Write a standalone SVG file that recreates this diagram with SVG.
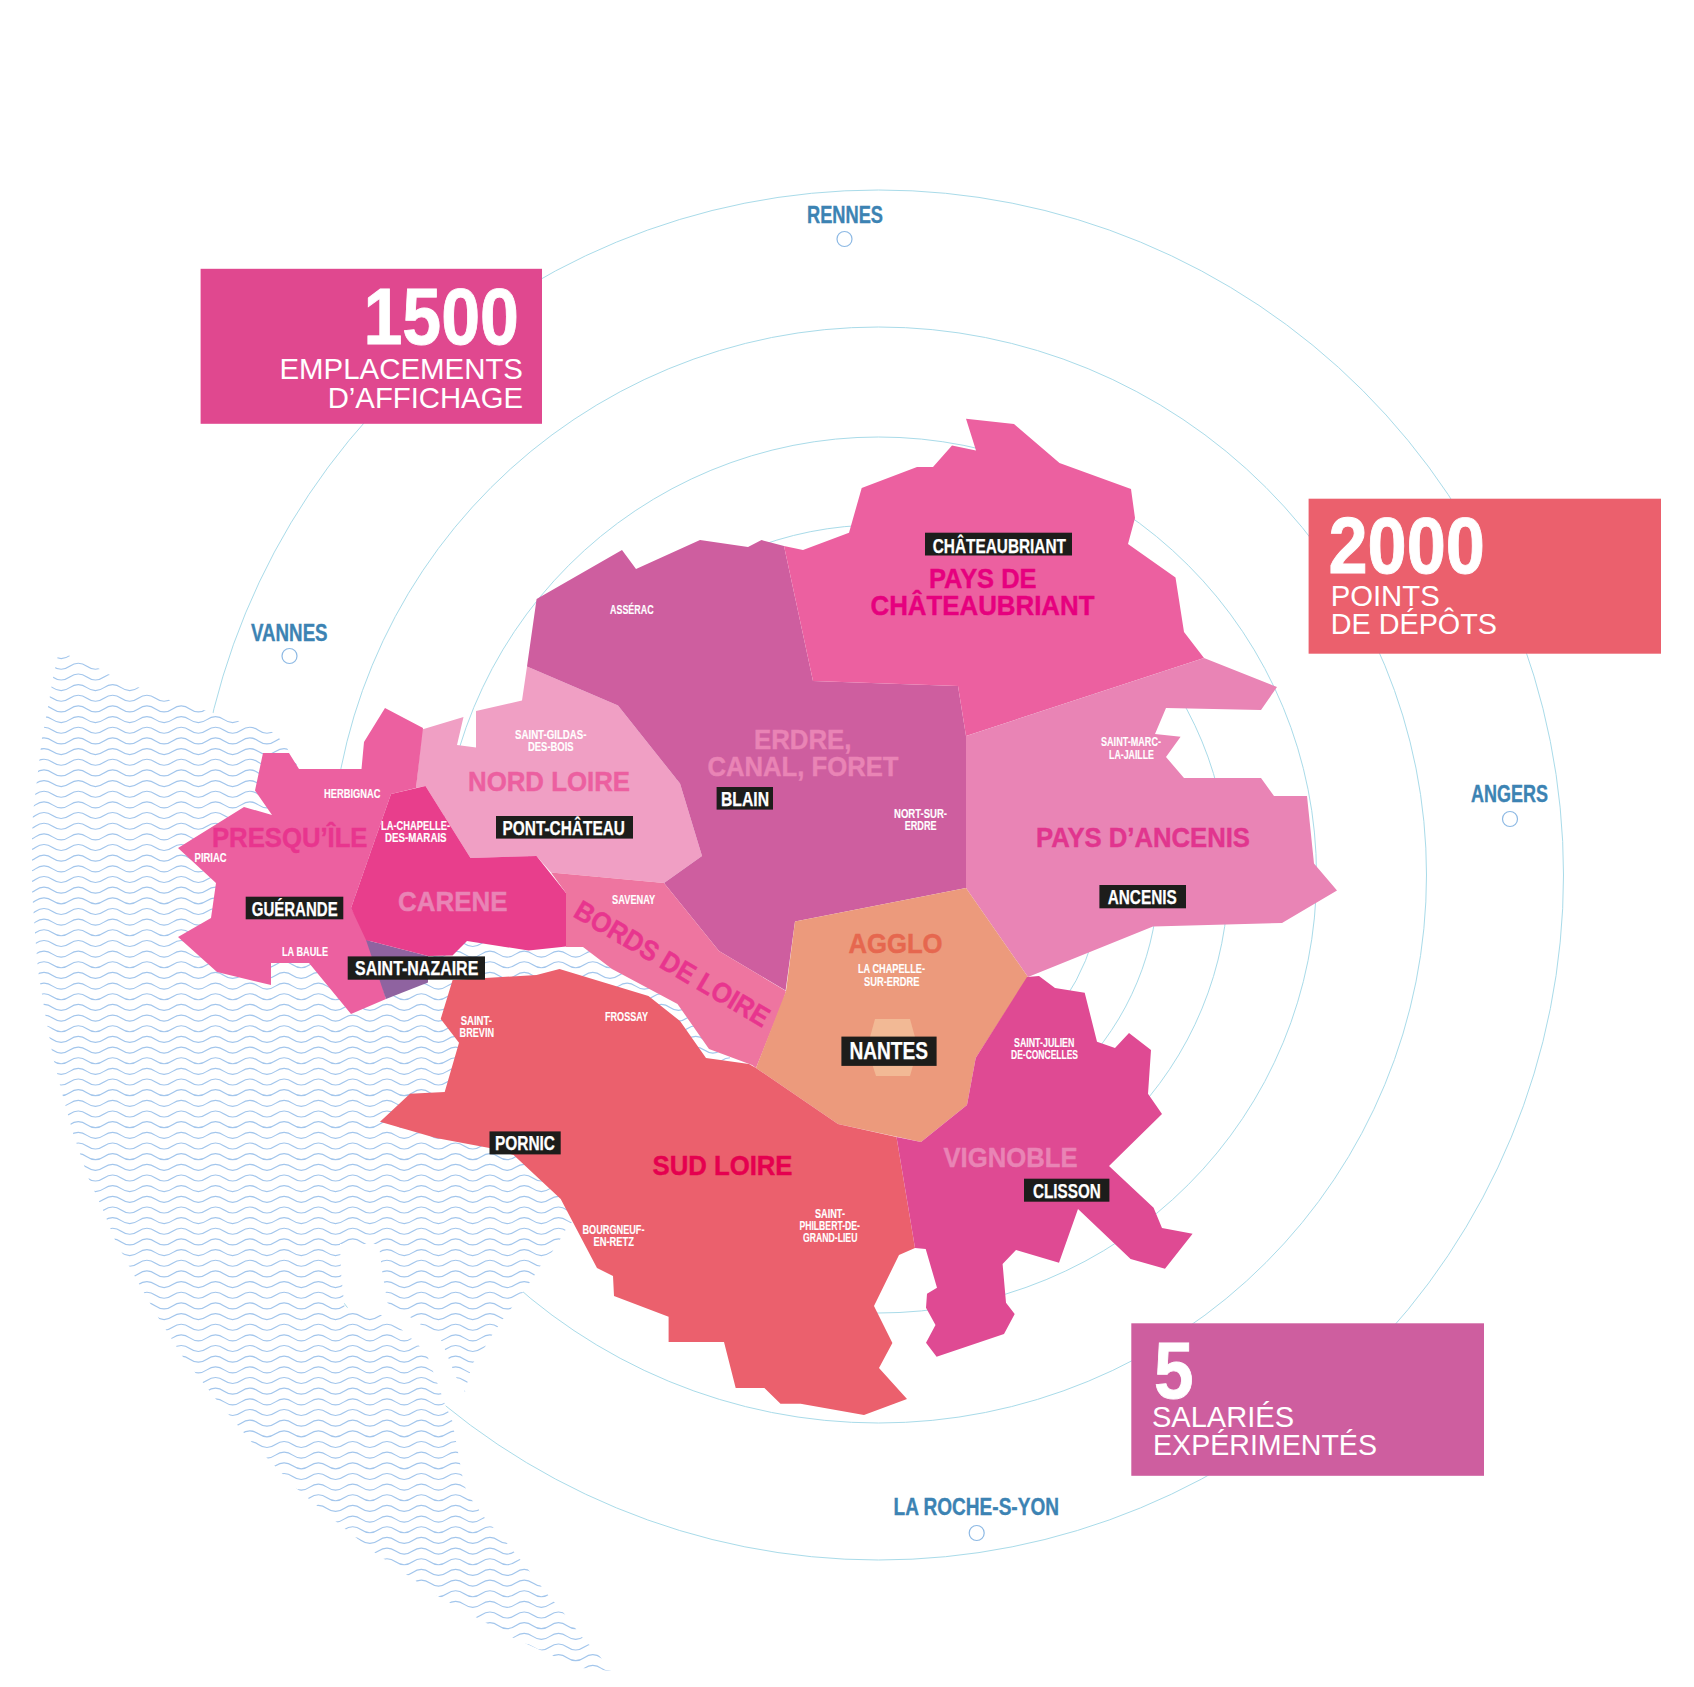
<svg xmlns="http://www.w3.org/2000/svg" width="1694" height="1687" viewBox="0 0 1694 1687">
<style>
text{font-family:"Liberation Sans",Arial,sans-serif;font-weight:700}
.ring{fill:none;stroke:#A9DBE9;stroke-width:1}
.r{font-size:28px;stroke-width:.45}
.pk{fill:#E984B5;stroke:#E984B5}
.mg{fill:#E8358E;stroke:#E8358E}
.c{font-size:23px;fill:#3C83B3;stroke:#3C83B3;stroke-width:.35}
.s{font-size:12px;fill:#fff;stroke:#fff;stroke-width:.12}
.t{font-size:20px;fill:#fff;stroke:#fff;stroke-width:.25}
.n{font-size:79px;fill:#fff;stroke:#fff;stroke-width:.9}
.b{font-size:29px;fill:#fff;font-weight:400}
.k{fill:#1D1D1B}
.dot{fill:#fff;stroke:#8DB9E4;stroke-width:1.2}
.w{fill:none;stroke:#A3C6EC;stroke-width:1.15}
</style>
<defs>
<path id="wave" class="w" d="M9.7,3c8.6,0 8.6,6 17.15,6s8.55,-6 17.15,-6s8.6,6 17.15,6s8.55,-6 17.15,-6s8.6,6 17.15,6s8.55,-6 17.15,-6s8.6,6 17.15,6s8.55,-6 17.15,-6s8.6,6 17.15,6s8.55,-6 17.15,-6s8.6,6 17.15,6s8.55,-6 17.15,-6s8.6,6 17.15,6s8.55,-6 17.15,-6s8.6,6 17.15,6s8.55,-6 17.15,-6s8.6,6 17.15,6s8.55,-6 17.15,-6s8.6,6 17.15,6s8.55,-6 17.15,-6s8.6,6 17.15,6s8.55,-6 17.15,-6s8.6,6 17.15,6s8.55,-6 17.15,-6s8.6,6 17.15,6s8.55,-6 17.15,-6s8.6,6 17.15,6s8.55,-6 17.15,-6s8.6,6 17.15,6s8.55,-6 17.15,-6s8.6,6 17.15,6s8.55,-6 17.15,-6s8.6,6 17.15,6s8.55,-6 17.15,-6s8.6,6 17.15,6s8.55,-6 17.15,-6s8.6,6 17.15,6s8.55,-6 17.15,-6s8.6,6 17.15,6s8.55,-6 17.15,-6s8.6,6 17.15,6s8.55,-6 17.15,-6"/>
<polygon id="seashape" points="58,655 68,655 98,668 110,675 140,688 172,701 207,711 242,722 275,733 287,748 300,770 340,800 450,900 570,900 720,1000 760,1060 760,1100 600,1200 572,1222 566.6,1228 561,1238 552,1252 541,1265 534.6,1275 530,1282 523,1292 511.5,1308 503.6,1318 499,1325 492.6,1334 485,1347 473.6,1362 470,1372 465,1392 456,1377 448,1357 441,1340 418.5,1323 410,1317 387.5,1303 382,1270 379.6,1250 377,1244 340,1244 341,1273 344.5,1307 381,1315 400,1328 418.5,1345 427,1355 441,1393 444,1402 452,1420 458,1452 464,1485 472,1500 484,1517 506,1542 527,1568 548,1595 563,1612 582,1637 598,1654 611,1671 582,1668 551,1655 511.5,1637 472,1615 436,1595 374,1552 334,1520 296,1488 251.5,1442 215,1398 183,1357 158.5,1318 134,1275 115,1240 103,1210 88,1177 73,1133 62,1093 53,1057 45,1013 38,970 35,933 32,890 32,847 32,837 33,813 42,738 48,707 53,678"/>
<clipPath id="seaclip"><use href="#seashape"/></clipPath>
</defs>
<rect width="1694" height="1687" fill="#fff"/>
<g id="rings">
<circle class="ring" cx="878.5" cy="875" r="685"/>
<circle class="ring" cx="878.5" cy="875" r="548"/>
<circle class="ring" cx="878.5" cy="875" r="438"/>
<circle class="ring" cx="878.5" cy="875" r="350"/>
<circle class="ring" cx="878.5" cy="875" r="280"/>
<circle class="ring" cx="878.5" cy="875" r="224"/>
</g>
<g id="sea">
<use href="#seashape" fill="#fff"/>
<g clip-path="url(#seaclip)">
<use href="#wave" y="649.64"/><use href="#wave" y="660.3"/><use href="#wave" y="670.96"/><use href="#wave" y="681.62"/><use href="#wave" y="692.28"/><use href="#wave" y="702.94"/><use href="#wave" y="713.6"/><use href="#wave" y="724.26"/><use href="#wave" y="734.92"/><use href="#wave" y="745.58"/><use href="#wave" y="756.24"/>
<use href="#wave" y="766.9"/><use href="#wave" y="777.56"/><use href="#wave" y="788.22"/><use href="#wave" y="798.88"/><use href="#wave" y="809.54"/><use href="#wave" y="820.2"/><use href="#wave" y="830.86"/><use href="#wave" y="841.52"/><use href="#wave" y="852.18"/><use href="#wave" y="862.84"/>
<use href="#wave" y="873.5"/><use href="#wave" y="884.16"/><use href="#wave" y="894.82"/><use href="#wave" y="905.48"/><use href="#wave" y="916.14"/><use href="#wave" y="926.8"/><use href="#wave" y="937.46"/><use href="#wave" y="948.12"/><use href="#wave" y="958.78"/><use href="#wave" y="969.44"/>
<use href="#wave" y="980.1"/><use href="#wave" y="990.76"/><use href="#wave" y="1001.42"/><use href="#wave" y="1012.08"/><use href="#wave" y="1022.74"/><use href="#wave" y="1033.4"/><use href="#wave" y="1044.06"/><use href="#wave" y="1054.72"/><use href="#wave" y="1065.38"/><use href="#wave" y="1076.04"/>
<use href="#wave" y="1086.7"/><use href="#wave" y="1097.36"/><use href="#wave" y="1108.02"/><use href="#wave" y="1118.68"/><use href="#wave" y="1129.34"/><use href="#wave" y="1140"/><use href="#wave" y="1150.66"/><use href="#wave" y="1161.32"/><use href="#wave" y="1171.98"/><use href="#wave" y="1182.64"/>
<use href="#wave" y="1193.3"/><use href="#wave" y="1203.96"/><use href="#wave" y="1214.62"/><use href="#wave" y="1225.28"/><use href="#wave" y="1235.94"/><use href="#wave" y="1246.6"/><use href="#wave" y="1257.26"/><use href="#wave" y="1267.92"/><use href="#wave" y="1278.58"/><use href="#wave" y="1289.24"/>
<use href="#wave" y="1299.9"/><use href="#wave" y="1310.56"/><use href="#wave" y="1321.22"/><use href="#wave" y="1331.88"/><use href="#wave" y="1342.54"/><use href="#wave" y="1353.2"/><use href="#wave" y="1363.86"/><use href="#wave" y="1374.52"/><use href="#wave" y="1385.18"/><use href="#wave" y="1395.84"/>
<use href="#wave" y="1406.5"/><use href="#wave" y="1417.16"/><use href="#wave" y="1427.82"/><use href="#wave" y="1438.48"/><use href="#wave" y="1449.14"/><use href="#wave" y="1459.8"/><use href="#wave" y="1470.46"/><use href="#wave" y="1481.12"/><use href="#wave" y="1491.78"/><use href="#wave" y="1502.44"/>
<use href="#wave" y="1513.1"/><use href="#wave" y="1523.76"/><use href="#wave" y="1534.42"/><use href="#wave" y="1545.08"/><use href="#wave" y="1555.74"/><use href="#wave" y="1566.4"/><use href="#wave" y="1577.06"/><use href="#wave" y="1587.72"/><use href="#wave" y="1598.38"/><use href="#wave" y="1609.04"/>
<use href="#wave" y="1619.7"/><use href="#wave" y="1630.36"/><use href="#wave" y="1641.02"/><use href="#wave" y="1651.68"/><use href="#wave" y="1662.34"/>
</g>
</g>
<g id="connectors"/>
<g id="nord-loire">
<polygon fill="#F09FC4" points="527,666.6 618,705.6 680,783.5 702,856 664,883 551,872.6 536.5,856 470.5,858 425.5,786 416,788 422,729.6 463.5,717 457,745 476,747.5 476,711 522,700.6"/>
<text class="r" fill="#EC5FA0" stroke="#EC5FA0" x="468" y="790.6" textLength="162" lengthAdjust="spacingAndGlyphs">NORD LOIRE</text>
<text class="s" x="515" y="738.7" textLength="71.5" lengthAdjust="spacingAndGlyphs">SAINT-GILDAS-</text>
<text class="s" x="528" y="750.8" textLength="45.6" lengthAdjust="spacingAndGlyphs">DES-BOIS</text>
</g>
<g id="presquile">
<polygon fill="#EC60A0" points="263,753 289,753 299,769 361.5,769 364,742 385,708 423,728 416,788 391,794 351,908 369,939 386,999 351,1014 309,963 271,963 271,985 217,972 178,937 211,918 216,883 178,848 244,807 272,815 255,790.5"/>
<polygon fill="#8F63A0" points="366,940 428,956 428,982.5 386,999"/>
<text class="r mg" x="212" y="847.3" textLength="155.5" lengthAdjust="spacingAndGlyphs">PRESQU’ÎLE</text>
<text class="s" x="324" y="798" textLength="56.5" lengthAdjust="spacingAndGlyphs">HERBIGNAC</text>
<text class="s" x="194.6" y="861.5" textLength="32" lengthAdjust="spacingAndGlyphs">PIRIAC</text>
<text class="s" x="282" y="955.6" textLength="46" lengthAdjust="spacingAndGlyphs">LA BAULE</text>
</g>
<g id="carene">
<polygon fill="#E83E8C" points="391,794 425.5,786 470.5,858 536.5,856 566,893 566,946.5 528.5,950.5 467,941 452.5,955.6 428,956 366,940 351,908"/>
<text class="r pk" x="398" y="911" textLength="109.5" lengthAdjust="spacingAndGlyphs">CARENE</text>
<text class="s" x="381" y="829.5" textLength="69" lengthAdjust="spacingAndGlyphs">LA-CHAPELLE-</text>
<text class="s" x="385" y="841.5" textLength="61.6" lengthAdjust="spacingAndGlyphs">DES-MARAIS</text>
</g>
<g id="erdre">
<polygon fill="#CE5E9F" points="536.6,599 622,550 636,569 700,540 748,547 761.5,540 784,546 813,681 958,686 966,736 966,888 795,921.6 785.6,990.6 719,951 664,883 702,856 680,783.5 618,705.6 527,666.6"/>
<text class="r pk" x="754" y="749" textLength="97.5" lengthAdjust="spacingAndGlyphs">ERDRE,</text>
<text class="r pk" x="707.5" y="776" textLength="191" lengthAdjust="spacingAndGlyphs">CANAL, FORET</text>
<text class="s" x="610" y="613.5" textLength="43.6" lengthAdjust="spacingAndGlyphs">ASSÉRAC</text>
<text class="s" x="894" y="817.5" textLength="53" lengthAdjust="spacingAndGlyphs">NORT-SUR-</text>
<text class="s" x="904.8" y="829.5" textLength="31.7" lengthAdjust="spacingAndGlyphs">ERDRE</text>
</g>
<g id="chateaubriant">
<polygon fill="#EC60A0" points="966,418.7 1014,424 1059.5,463 1131,489 1135,518 1128,544 1175.5,577.5 1184,632 1204,658 966,736 958,686 813,681 784,546 803,550 849,532.7 861.7,488 917,467 933,467 952,445.6 976,450.6"/>
<text class="r" fill="#E6007E" stroke="#E6007E" x="929" y="588" textLength="107.5" lengthAdjust="spacingAndGlyphs">PAYS DE</text>
<text class="r" fill="#E6007E" stroke="#E6007E" x="870.5" y="615" textLength="224" lengthAdjust="spacingAndGlyphs">CHÂTEAUBRIANT</text>
</g>
<g id="ancenis">
<polygon fill="#E984B5" points="1204,658 1277,687 1261,710 1166,708 1155,734 1180.6,736.7 1166,757 1184,778 1261,778 1274,796 1307,796 1314,863.5 1337,890.5 1282,923 1153,926.5 1028,977 966,888 966,736"/>
<text class="r" fill="#E1358E" stroke="#E1358E" x="1036" y="847.3" textLength="214" lengthAdjust="spacingAndGlyphs">PAYS D’ANCENIS</text>
<text class="s" x="1101" y="745.8" textLength="60" lengthAdjust="spacingAndGlyphs">SAINT-MARC-</text>
<text class="s" x="1109" y="758.8" textLength="45" lengthAdjust="spacingAndGlyphs">LA-JAILLE</text>
</g>
<g id="bords-de-loire">
<polygon fill="#EE75A0" points="551,872.6 664,883 719,951 786,991 783,1001 756,1068 752,1065 709,1049 677.5,1004 612,969 583,947 566,947 566,893"/>
<text class="r mg" transform="translate(572,916) rotate(30.4)" textLength="221" lengthAdjust="spacingAndGlyphs">BORDS DE LOIRE</text>
<text class="s" x="612" y="903.5" textLength="43.3" lengthAdjust="spacingAndGlyphs">SAVENAY</text>
</g>
<g id="agglo">
<polygon fill="#EC9A7C" points="966,888 1028,977 975.7,1058 967,1105 921,1142 838,1124 756,1068 786,991 795,921.6"/>
<polygon fill="#F2B995" points="875,1019 910,1019 918,1048 910,1076 876,1076 867,1048"/>
<text class="r" fill="#E6674F" stroke="#E6674F" x="848.5" y="952.6" textLength="94" lengthAdjust="spacingAndGlyphs">AGGLO</text>
<text class="s" x="858" y="973.3" textLength="67" lengthAdjust="spacingAndGlyphs">LA CHAPELLE-</text>
<text class="s" x="864" y="986" textLength="55.4" lengthAdjust="spacingAndGlyphs">SUR-ERDRE</text>
</g>
<g id="sud-loire" transform="translate(0,1)">
<polygon fill="#EB606D" points="452.6,979 536.5,974 559.5,968 648.5,995 680,1020 706,1057 749,1063 756,1067 838,1123 896.5,1136 915,1247 899,1254 874,1305 892.4,1342 879,1367 907,1398 864,1414 800.6,1402.7 780.5,1402.7 764.4,1387 735.7,1387 724,1341 668.6,1341 668.6,1315.7 614,1295 613,1275 597,1267 560.7,1198 513.6,1154 489.5,1147 436,1137 380,1120.7 410,1092.7 444.7,1091 459,1041.7 440.7,1018"/>
<text class="r" fill="#E5004F" stroke="#E5004F" x="652.5" y="1174" textLength="140" lengthAdjust="spacingAndGlyphs">SUD LOIRE</text>
<text class="s" x="460.7" y="1024.4" textLength="31.3" lengthAdjust="spacingAndGlyphs">SAINT-</text>
<text class="s" x="459.6" y="1036.4" textLength="34.4" lengthAdjust="spacingAndGlyphs">BREVIN</text>
<text class="s" x="605" y="1020.4" textLength="43" lengthAdjust="spacingAndGlyphs">FROSSAY</text>
<text class="s" x="582.5" y="1233" textLength="62" lengthAdjust="spacingAndGlyphs">BOURGNEUF-</text>
<text class="s" x="593.4" y="1244.7" textLength="40.6" lengthAdjust="spacingAndGlyphs">EN-RETZ</text>
<text class="s" x="815" y="1216.7" textLength="30" lengthAdjust="spacingAndGlyphs">SAINT-</text>
<text class="s" x="799.4" y="1228.7" textLength="60.6" lengthAdjust="spacingAndGlyphs">PHILBERT-DE-</text>
<text class="s" x="803" y="1240.7" textLength="54.4" lengthAdjust="spacingAndGlyphs">GRAND-LIEU</text>
</g>
<g id="vignoble" transform="translate(0,1)">
<polygon fill="#DF4A93" points="1027,976 1039,975 1055,987 1084.7,991.7 1097,1040.7 1115,1047 1129,1032 1151,1049 1148,1092.7 1162,1113 1109,1165 1153.6,1206.7 1162,1227 1192.6,1232.7 1165,1267.7 1130.6,1258 1078,1208 1059,1261.7 1016,1249 1002.6,1263 1006,1301.7 1014.7,1313 1004,1333 936.6,1355.7 926,1341.7 935.5,1324 926,1306.7 927,1292.7 937,1286.7 925.7,1248 915,1247 896.5,1136 921,1141 967,1104 975.7,1057"/>
<text class="r pk" x="943.5" y="1166" textLength="134" lengthAdjust="spacingAndGlyphs">VIGNOBLE</text>
<text class="s" x="1014" y="1045.7" textLength="60.4" lengthAdjust="spacingAndGlyphs">SAINT-JULIEN</text>
<text class="s" x="1011" y="1058" textLength="67" lengthAdjust="spacingAndGlyphs">DE-CONCELLES</text>
</g>
<g id="label-guerande"><rect class="k" x="245.7" y="896.7" width="97.6" height="22.6"/><text class="t" x="251.7" y="915.7" textLength="86" lengthAdjust="spacingAndGlyphs">GUÉRANDE</text></g>
<g id="label-saint-nazaire"><rect class="k" x="347.7" y="956.4" width="137.3" height="23.3"/><text class="t" x="355" y="974.5" textLength="123.3" lengthAdjust="spacingAndGlyphs">SAINT-NAZAIRE</text></g>
<g id="label-pont-chateau"><rect class="k" x="496" y="816" width="137" height="22.6"/><text class="t" x="502.5" y="834.5" textLength="122.5" lengthAdjust="spacingAndGlyphs">PONT-CHÂTEAU</text></g>
<g id="label-blain"><rect class="k" x="716.6" y="787" width="56.4" height="22.6"/><text class="t" x="721" y="805.5" textLength="48" lengthAdjust="spacingAndGlyphs">BLAIN</text></g>
<g id="label-chateaubriant"><rect class="k" x="925" y="532.7" width="147" height="22.8"/><text class="t" x="932.7" y="552.6" textLength="133.3" lengthAdjust="spacingAndGlyphs">CHÂTEAUBRIANT</text></g>
<g id="label-ancenis"><rect class="k" x="1099.4" y="885" width="86.6" height="23.3"/><text class="t" x="1107.7" y="904.3" textLength="69.1" lengthAdjust="spacingAndGlyphs">ANCENIS</text></g>
<g id="label-nantes"><rect class="k" x="841.4" y="1036.6" width="95.2" height="29.3"/><text class="t" style="font-size:24px" x="849.4" y="1059.3" textLength="78.6" lengthAdjust="spacingAndGlyphs">NANTES</text></g>
<g id="label-pornic"><rect class="k" x="489.5" y="1131.4" width="71.2" height="23"/><text class="t" x="495" y="1150" textLength="60" lengthAdjust="spacingAndGlyphs">PORNIC</text></g>
<g id="label-clisson"><rect class="k" x="1024" y="1178.7" width="85.4" height="23"/><text class="t" x="1033" y="1197.7" textLength="67.8" lengthAdjust="spacingAndGlyphs">CLISSON</text></g>
<g id="city-rennes"><text class="c" x="807" y="223.3" textLength="76" lengthAdjust="spacingAndGlyphs">RENNES</text><circle class="dot" cx="844.5" cy="239" r="7.5"/></g>
<g id="city-vannes"><text class="c" x="251" y="640.5" textLength="76.6" lengthAdjust="spacingAndGlyphs">VANNES</text><circle class="dot" cx="289.5" cy="656" r="7.5"/></g>
<g id="city-angers"><text class="c" x="1471" y="802" textLength="77" lengthAdjust="spacingAndGlyphs">ANGERS</text><circle class="dot" cx="1510" cy="819" r="7.5"/></g>
<g id="city-la-roche"><text class="c" x="893.5" y="1515" textLength="165.5" lengthAdjust="spacingAndGlyphs">LA ROCHE-S-YON</text><circle class="dot" cx="976.7" cy="1533" r="7.5"/></g>
<g id="box-1500">
<rect x="200.6" y="268.8" width="341.4" height="155" fill="#E0488F"/>
<text class="n" x="363.5" y="344" textLength="155.5" lengthAdjust="spacingAndGlyphs">1500</text>
<text class="b" x="279.5" y="379.3" textLength="243.5" lengthAdjust="spacingAndGlyphs">EMPLACEMENTS</text>
<text class="b" x="327.7" y="407.5" textLength="195.3" lengthAdjust="spacingAndGlyphs">D’AFFICHAGE</text>
</g>
<g id="box-2000">
<rect x="1308.6" y="498.7" width="352.4" height="155" fill="#EB606D"/>
<text class="n" x="1328.5" y="573" textLength="156.5" lengthAdjust="spacingAndGlyphs">2000</text>
<text class="b" x="1330.7" y="606" textLength="109" lengthAdjust="spacingAndGlyphs">POINTS</text>
<text class="b" x="1330.7" y="634" textLength="166.3" lengthAdjust="spacingAndGlyphs">DE DÉPÔTS</text>
</g>
<g id="box-5">
<rect x="1131.3" y="1323.3" width="352.7" height="152.5" fill="#CE5E9F"/>
<text class="n" x="1154" y="1398" textLength="39.5" lengthAdjust="spacingAndGlyphs">5</text>
<text class="b" x="1152" y="1426.7" textLength="142" lengthAdjust="spacingAndGlyphs">SALARIÉS</text>
<text class="b" x="1153" y="1455" textLength="224" lengthAdjust="spacingAndGlyphs">EXPÉRIMENTÉS</text>
</g>
</svg>
